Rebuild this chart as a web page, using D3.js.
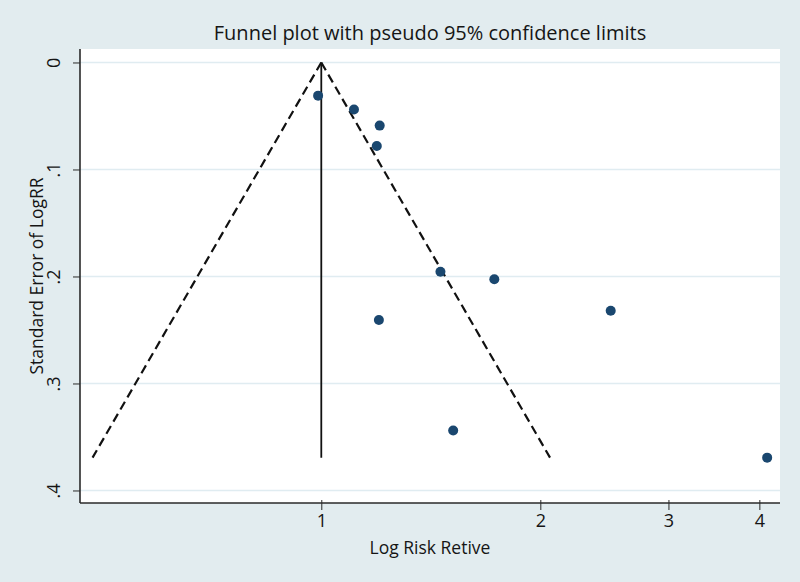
<!DOCTYPE html>
<html>
<head>
<meta charset="utf-8">
<script src="https://cdn.jsdelivr.net/npm/d3@7/dist/d3.min.js"></script>
<style>
  html, body { margin: 0; padding: 0; background: #e2ecef; }
  text { font-family: "Open Sans", "Noto Sans", sans-serif; fill: #151515; }
</style>
</head>
<body>
<svg id="chart" width="800" height="582"></svg>
<script>
// Study estimates: risk ratio and standard error of log RR
const riskRatios = [0.99, 1.109, 1.203, 1.192, 1.458, 1.729, 1.200, 1.518, 2.499, 4.10];
const standardErrors = [0.031, 0.044, 0.059, 0.078, 0.1955, 0.2026, 0.2407, 0.344, 0.232, 0.3693];
const pooledRR = 1.0;
const xTicks = [1, 2, 3, 4];
const yTicks = [0, 0.1, 0.2, 0.3, 0.4];
const yTickLabels = ["0", ".1", ".2", ".3", ".4"];
const titleText = "Funnel plot with pseudo 95% confidence limits";
const xTitle = "Log Risk Retive";
const yTitle = "Standard Error of LogRR";

const svg = d3.select("#chart");
const W = 800, H = 582;
const plot = { left: 80, right: 780, top: 49, bottom: 503 };

svg.append("rect").attr("width", W).attr("height", H).attr("fill", "#e2ecef");
svg.append("rect")
  .attr("x", plot.left).attr("y", plot.top)
  .attr("width", plot.right - plot.left).attr("height", plot.bottom - plot.top)
  .attr("fill", "#ffffff");

const x = d3.scaleLog().domain([0.466, 4.27]).range([plot.left, plot.right]);
const y = d3.scaleLinear().domain([-0.0126, 0.4117]).range([plot.top, plot.bottom]);

// gridlines
svg.append("g").selectAll("line").data(yTicks).join("line")
  .attr("x1", plot.left).attr("x2", plot.right)
  .attr("y1", d => y(d)).attr("y2", d => y(d))
  .attr("stroke", "#e0ecf1").attr("stroke-width", 1.5);

// funnel
const seMax = d3.max(standardErrors);
const lnPooled = Math.log(pooledRR);
const funnelLeft = [[pooledRR, 0], [Math.exp(lnPooled - 1.96 * seMax), seMax]];
const funnelRight = [[pooledRR, 0], [Math.exp(lnPooled + 1.96 * seMax), seMax]];
const line = d3.line().x(d => x(d[0])).y(d => y(d[1]));
[funnelLeft, funnelRight].forEach(seg => {
  svg.append("path").attr("d", line(seg))
    .attr("fill", "none").attr("stroke", "#111").attr("stroke-width", 2.2)
    .attr("stroke-dasharray", "9,5");
});
svg.append("path").attr("d", line([[pooledRR, 0], [pooledRR, seMax]]))
  .attr("fill", "none").attr("stroke", "#111").attr("stroke-width", 1.8);

// points
svg.append("g").selectAll("circle").data(riskRatios.map((r, i) => [r, standardErrors[i]])).join("circle")
  .attr("cx", d => x(d[0])).attr("cy", d => y(d[1])).attr("r", 5)
  .attr("fill", "#1a476f");

// axes
const xAxis = d3.axisBottom(x).tickValues(xTicks).tickFormat(d3.format("d")).tickSize(7).tickPadding(4);
const gx = svg.append("g").attr("transform", `translate(0,${plot.bottom})`).call(xAxis);
gx.select(".domain").attr("stroke", "#2a2a2a").attr("stroke-width", 1.6).attr("d", `M${plot.left},0H${plot.right}`);
gx.selectAll(".tick line").attr("stroke", "#2a2a2a").attr("y1", -3);
gx.selectAll(".tick text").attr("font-size", 18).attr("fill", "#151515")
  .style("font-family", '"Open Sans", sans-serif');

const yAxis = d3.axisLeft(y).tickValues(yTicks).tickFormat((d, i) => yTickLabels[i]).tickSize(7).tickPadding(6);
const gy = svg.append("g").attr("transform", `translate(${plot.left},0)`).call(yAxis);
gy.select(".domain").attr("stroke", "#2a2a2a").attr("stroke-width", 1.6).attr("d", `M0,${plot.top}V${plot.bottom}`);
gy.selectAll(".tick line").attr("stroke", "#2a2a2a");
gy.selectAll(".tick text")
  .attr("font-size", 18).attr("fill", "#151515")
  .style("font-family", '"Open Sans", sans-serif')
  .attr("text-anchor", "middle").attr("x", null).attr("dy", null)
  .attr("transform", "translate(-20,0) rotate(-90)");

// titles
svg.append("text").attr("x", 430).attr("y", 40).attr("text-anchor", "middle")
  .attr("font-size", 20).text(titleText);
svg.append("text").attr("x", 430).attr("y", 554).attr("text-anchor", "middle")
  .attr("font-size", 17.5).text(xTitle);
svg.append("text").attr("transform", `translate(43,${(plot.top + plot.bottom) / 2}) rotate(-90)`)
  .attr("text-anchor", "middle").attr("font-size", 17.5).text(yTitle);
</script>
</body>
</html>
